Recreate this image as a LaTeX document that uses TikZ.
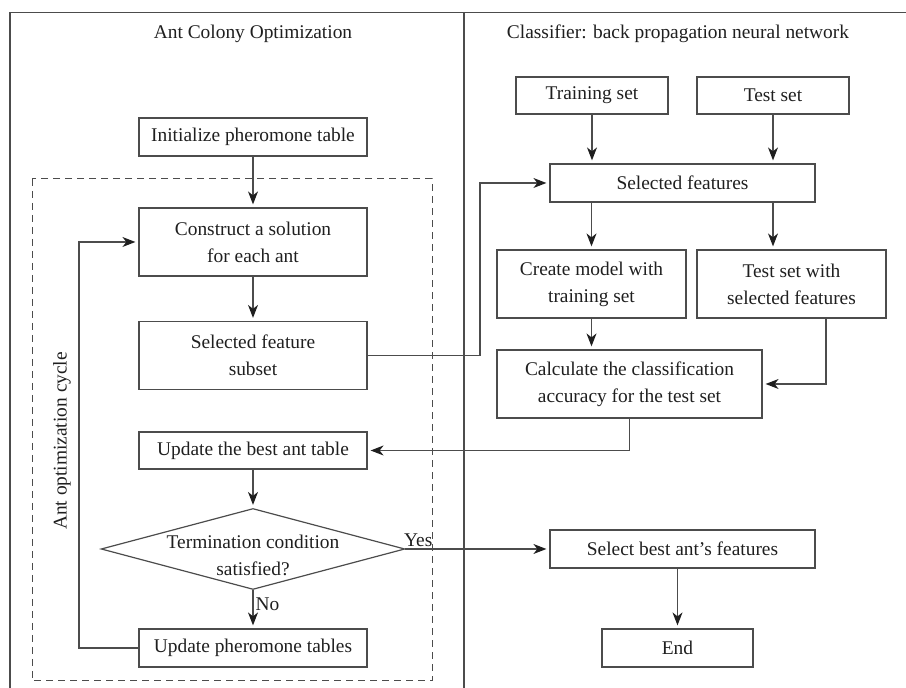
\documentclass[tikz,border=0pt]{standalone}
\usepackage{fontspec}
\setmainfont{Liberation Serif}
\usetikzlibrary{arrows.meta,calc,shapes.geometric}
\definecolor{LineClr}{rgb}{0.3,0.3,0.3}
\definecolor{TextClr}{rgb}{0.12,0.12,0.12}

\begin{document}
\begin{tikzpicture}[x=0.5pt,y=-0.5pt,
  txt/.style={text=TextClr,font=\fontsize{9.7}{13.5}\selectfont},
  box/.style={txt,draw=LineClr,line width=0.6pt,align=center,inner sep=0pt},
  decision/.style={box,diamond,shape aspect=4,inner xsep=-8.5pt,inner ysep=-3pt},
  link/.style={draw=LineClr,line width=0.6pt},
  arr/.style={link,shorten >=1.5pt,-{Stealth[length=6.5pt,width=5pt,inset=2pt,color=TextClr]}}]
\useasboundingbox (0,0) rectangle (906,688);

% frame and panels
\draw[link] (906,12.7) -- (10,12.7) -- (10,688);
\draw[link] (464,12.7) -- (464,688);
\draw[LineClr,line width=0.5pt,dash pattern=on 3.5pt off 2.5pt] (32,179) rectangle (432,681);

\node[txt] (acoTitle) at (253,34) {Ant Colony Optimization};
\node[txt] (bpTitle) at (678,34) {Classifier: back propagation neural network};
\node[txt,rotate=90] (cycleLbl) at (62,441) {Ant optimization cycle};

% left panel
\node[box,minimum width=114pt,minimum height=19pt] (init) at (253,137) {Initialize pheromone table};
\node[box,minimum width=114pt,minimum height=34pt] (construct) at (253,242) {Construct a solution\\for each ant};
\node[box,minimum width=114pt,minimum height=34pt] (subset) at (253,355.5) {Selected feature\\subset};
\node[box,minimum width=114pt,minimum height=18.5pt] (best) at (253,450.5) {Update the best ant table};
\node[decision,minimum width=151pt,minimum height=40.5pt] (term) at (253,549) {\rule{0pt}{13pt}Termination condition\\satisfied?};
\node[box,minimum width=114pt,minimum height=19pt] (update) at (253,648) {Update pheromone tables};

% right panel
\node[box,minimum width=76pt,minimum height=18.5pt] (train) at (592,95.5) {Training set};
\node[box,minimum width=76pt,minimum height=18.5pt] (test) at (773,95.5) {Test set};
\node[box,minimum width=132.5pt,minimum height=19pt] (selFeat) at (682.5,183) {Selected features};
\node[box,minimum width=94.5pt,minimum height=34pt] (create) at (591.5,284) {Create model with\\training set};
\node[box,minimum width=94.5pt,minimum height=34pt] (testSel) at (791.5,284) {Test set with\\selected features};
\node[box,minimum width=132.5pt,minimum height=34pt] (calcAcc) at (629.5,384) {Calculate the classification\\accuracy for the test set};
\node[box,minimum width=132.5pt,minimum height=19pt] (select) at (682.5,549) {Select best ant’s features};
\node[box,minimum width=75.5pt,minimum height=19pt] (end) at (677.5,648) {End};

\coordinate (jog) at (480,0);
\coordinate (loop) at (79,648);

% connectors
\draw[arr] (init) -- (construct);
\draw[arr] (construct) -- (subset);
\draw[arr] (subset.east) -- (subset.east -| jog) |- (selFeat.west);
\draw[arr] (train.south) -- (train.south |- selFeat.north);
\draw[arr] (test.south) -- (test.south |- selFeat.north);
\draw[arr] (selFeat.south -| create.north) -- (create.north);
\draw[arr] (selFeat.south -| test.south) -- (testSel.north -| test.south);
\draw[arr] (create.south) -- (create.south |- calcAcc.north);
\draw[arr] ($(testSel.south)+(34.5,0)$) |- (calcAcc.east);
\draw[arr] (calcAcc.south) |- (best.east);
\draw[arr] (best) -- (term);
\draw[arr] (term) -- node[txt,right,pos=0.37,inner sep=1pt]{No} (update);
\draw[arr] (term.east) -- node[txt,pos=0,anchor=south west,inner sep=1pt,xshift=-2pt]{Yes} (term.east -| select.west);
\draw[arr] (update.west) -- (loop) |- (construct.west);
\draw[arr] (select.south -| end.north) -- (end.north);
\end{tikzpicture}
\end{document}
